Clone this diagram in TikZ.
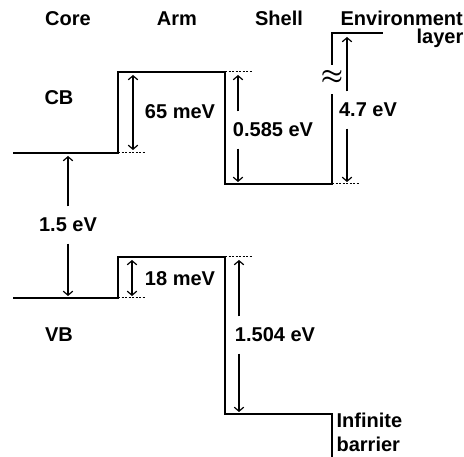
\documentclass[tikz,border=0pt]{standalone}
\usepackage{fontspec}
\setmainfont{Liberation Sans}
\usetikzlibrary{arrows.meta}

\begin{document}
\begin{tikzpicture}[x=1pt,y=1pt,line width=1.2pt,
  >={Straight Barb[length=4pt,width=9.5pt]},
  lbl/.style={font=\fontsize{20}{24}\selectfont\bfseries,inner sep=0pt},
  gaplbl/.style={lbl,minimum height=36pt},
  dsh/.style={line width=1pt,dash pattern=on 2pt off 1.5pt}]
\useasboundingbox (0,0) rectangle (464,457);
\coordinate (cb0) at (13,304);
\coordinate (cb1) at (118,304);
\coordinate (cb2) at (118,385);
\coordinate (cb3) at (225,385);
\coordinate (cb4) at (225,273);
\coordinate (cb5) at (332,273);
\coordinate (env1) at (332,363);
\coordinate (env2) at (332,392);
\coordinate (env3) at (332,424);
\coordinate (env4) at (383,424);
\coordinate (vb0) at (13,159);
\coordinate (vb1) at (118,159);
\coordinate (vb2) at (118,200);
\coordinate (vb3) at (225,200);
\coordinate (vb4) at (225,43);
\coordinate (vb5) at (332,43);
\coordinate (vb6) at (332,0);
\draw (cb0) -- (cb1) -- (cb2) -- (cb3) -- (cb4) -- (cb5) -- (env1);
\draw (env2) -- (env3) -- (env4);
\draw (vb0) -- (vb1) -- (vb2) -- (vb3) -- (vb4) -- (vb5) -- (vb6);
\draw[dsh] (cb1) -- ++(28,0);
\draw[dsh] (cb3) -- ++(28,0);
\draw[dsh] (cb5) -- ++(28,0);
\draw[dsh] (vb1) -- ++(28,0);
\draw[dsh] (vb3) -- ++(28,0);
\node[font=\fontsize{24}{24}\selectfont\boldmath,inner sep=0pt] (brk) at (332,380) {$\approx$};
\node[lbl,anchor=base] (core) at (68,431) {Core};
\node[lbl,anchor=base] (arm) at (177,431) {Arm};
\node[lbl,anchor=base] (shell) at (279,431) {Shell};
\node[lbl,anchor=base west] (env) at (340,431) {Environment};
\node[lbl,anchor=base west] (layer) at (416,413) {layer};
\node[lbl] (cb) at (59,359) {CB};
\node[lbl] (vb) at (59,122) {VB};
\node[lbl] (m65) at (180,345) {65 meV};
\node[lbl] (m18) at (180,178) {18 meV};
\node[gaplbl] (e585) at (273,327) {0.585 eV};
\node[gaplbl] (e47) at (368,347) {4.7 eV};
\node[gaplbl] (e15) at (68,232) {1.5 eV};
\node[gaplbl] (e1504) at (275,122) {1.504 eV};
\node[lbl,anchor=base west] (inf) at (336,29) {Infinite};
\node[lbl,anchor=base west] (bar) at (336,5) {barrier};
\coordinate (t65) at (133,385);
\coordinate (b65) at (133,304);
\coordinate (t18) at (132,200);
\coordinate (b18) at (132,159);
\coordinate (a585) at (238,385);
\coordinate (z585) at (238,273);
\coordinate (a47) at (347,424);
\coordinate (z47) at (347,273);
\coordinate (a1504) at (239,200);
\coordinate (z1504) at (239,43);
\draw[<->,shorten <=3pt,shorten >=3pt] (t65) -- (b65);
\draw[<->,shorten <=3pt,shorten >=2pt] (t18) -- (b18);
\draw[->,shorten >=3pt] (e15.north) -- (e15.north |- cb0);
\draw[->,shorten >=2pt] (e15.south) -- (e15.south |- vb0);
\draw[->,shorten >=3pt] (a585 |- e585.north) -- (a585);
\draw[->,shorten >=2pt] (a585 |- e585.south) -- (z585);
\draw[->,shorten >=4pt] (a47 |- e47.north) -- (a47);
\draw[->,shorten >=2pt] (a47 |- e47.south) -- (z47);
\draw[->,shorten >=3pt] (a1504 |- e1504.north) -- (a1504);
\draw[->,shorten >=2pt] (a1504 |- e1504.south) -- (z1504);
\end{tikzpicture}
\end{document}
